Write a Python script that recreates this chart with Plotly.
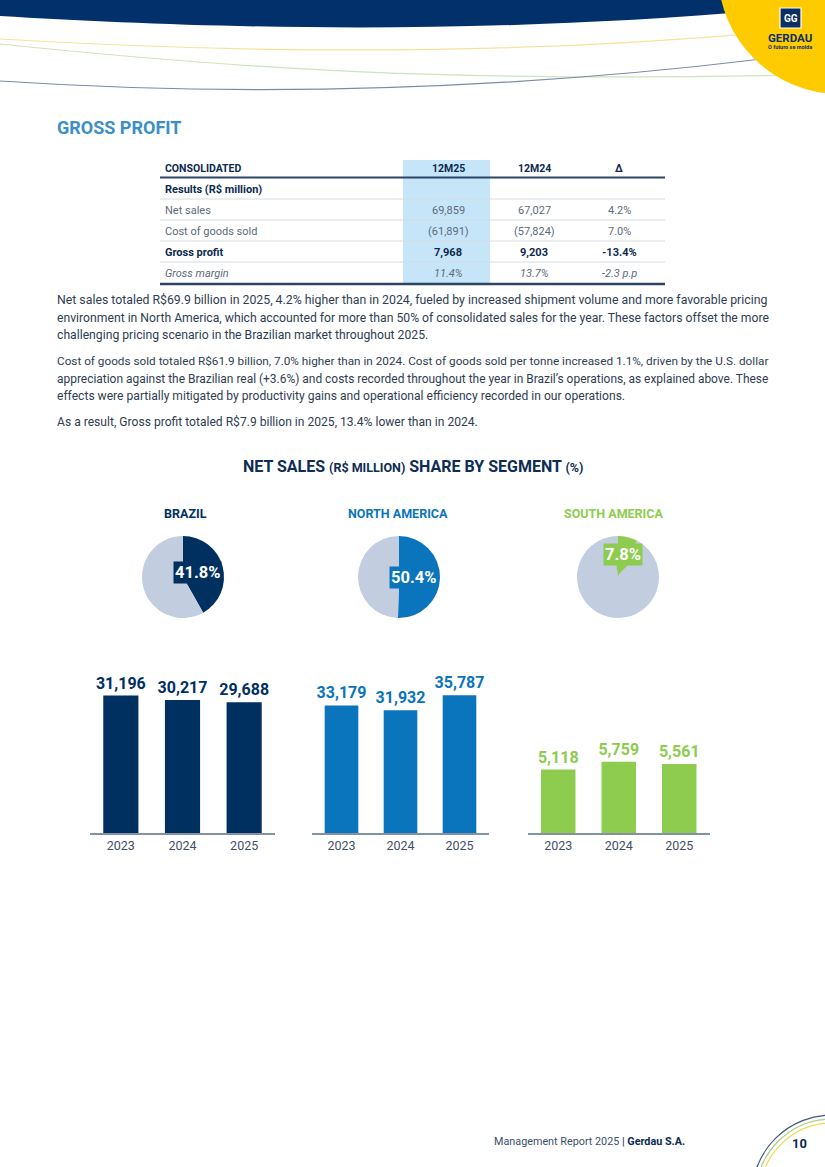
import plotly.graph_objects as go

# ---------------- data ----------------
table_header = ["CONSOLIDATED", "12M25", "12M24", "Δ"]
table_rows = ["Results (R$ million)", "Net sales", "Cost of goods sold", "Gross profit", "Gross margin"]
col_12m25 = ["", "69,859", "(61,891)", "7,968", "11.4%"]
col_12m24 = ["", "67,027", "(57,824)", "9,203", "13.7%"]
col_delta = ["", "4.2%", "7.0%", "-13.4%", "-2.3 p.p"]
row_styles = ["bold", "normal", "normal", "bold", "italic"]

segments = ["BRAZIL", "NORTH AMERICA", "SOUTH AMERICA"]
segment_share = [41.8, 50.4, 7.8]
years = ["2023", "2024", "2025"]
sales_brazil = [31196, 30217, 29688]
sales_north_america = [33179, 31932, 35787]
sales_south_america = [5118, 5759, 5561]

paragraph_lines = [
    "Net sales totaled R$69.9 billion in 2025, 4.2% higher than in 2024, fueled by increased shipment volume and more favorable pricing",
    "environment in North America, which accounted for more than 50% of consolidated sales for the year. These factors offset the more",
    "challenging pricing scenario in the Brazilian market throughout 2025.",
    "Cost of goods sold totaled R$61.9 billion, 7.0% higher than in 2024. Cost of goods sold per tonne increased 1.1%, driven by the U.S. dollar",
    "appreciation against the Brazilian real (+3.6%) and costs recorded throughout the year in Brazil\u2019s operations, as explained above. These",
    "effects were partially mitigated by productivity gains and operational efficiency recorded in our operations.",
    "As a result, Gross profit totaled R$7.9 billion in 2025, 13.4% lower than in 2024.",
]

# ---------------- style ----------------
W, H = 825, 1167
NAVY = "#00305f"
BLUE = "#0a75bc"
GREEN = "#8dcc4e"
LIGHT = "#c3cde0"
TEXT = "#2f3d52"
GREY = "#5d6b7b"
FONT = "Roboto"
seg_colors = [NAVY, BLUE, GREEN]
seg_values = [sales_brazil, sales_north_america, sales_south_america]
para_y = [300, 317.5, 335, 361, 378.5, 396, 422]
para_size = [12.3, 12.2, 12.2, 11.75, 11.95, 12.1, 12.1]


def px(x):
    return x / W


def py(y):
    return 1 - y / H


fig = go.Figure()
annotations = []
shapes = []


def text(x, y, s, size, color, family=FONT, xanchor="left", yanchor="middle", **kw):
    annotations.append(dict(x=x, y=y, xref="x4", yref="y4", text=s, showarrow=False,
                            xanchor=xanchor, yanchor=yanchor,
                            font=dict(size=size, color=color, family=family), **kw))


# ---------------- header decoration ----------------
shapes.append(dict(type="path", xref="x4", yref="y4", layer="above",
                   path="M0,0 L0,16 C200,28 480,37 790,8 L790,0 Z",
                   fillcolor="#01306a", line=dict(width=0)))
shapes.append(dict(type="path", xref="x4", yref="y4", layer="above",
                   path="M0,39 Q420,64 770,32", line=dict(color="#f4e39a", width=1.2)))
shapes.append(dict(type="path", xref="x4", yref="y4", layer="above",
                   path="M0,44 C250,70 450,82 800,75", line=dict(color="#cfe3bd", width=1.2)))
shapes.append(dict(type="path", xref="x4", yref="y4", layer="above",
                   path="M0,81 Q380,106 770,58", line=dict(color="#7c8aa4", width=1.2)))
shapes.append(dict(type="circle", xref="x4", yref="y4", layer="above",
                   x0=840 - 122, x1=840 + 122, y0=-28 - 122, y1=-28 + 122,
                   fillcolor="#fecb00", line=dict(width=0)))
shapes.append(dict(type="rect", xref="x4", yref="y4", layer="above",
                   x0=780, x1=801, y0=8, y1=28, fillcolor="#0b2f63",
                   line=dict(color="white", width=1.2)))
text(790.5, 18.5, "<b>GG</b>", 10, "white", xanchor="center")
text(790, 38, "<b>GERDAU</b>", 11.5, "#0b2f63", xanchor="center")
text(790, 47, "<b>O futuro se molda</b>", 5.5, "#0b2f63", xanchor="center")

# ---------------- title ----------------
text(55, 127, "<b>GROSS PROFIT</b>", 18, "#3b8fc6")

# ---------------- table ----------------
shapes.append(dict(type="rect", xref="x4", yref="y4", layer="below",
                   x0=403, x1=490, y0=160, y1=284, fillcolor="#c6e5f8", line=dict(width=0)))
col_x = [163, 448, 534, 619]
header_y = 168
row_y = [189, 210, 231, 252, 273]
line_y = [199, 220, 241, 262]
for i, h in enumerate(table_header):
    text(col_x[i], header_y, f"<b>{h}</b>", 10.5, "#0d2a4f",
         xanchor="left" if i == 0 else "center")
shapes.append(dict(type="line", xref="x4", yref="y4", layer="above",
                   x0=160, x1=665, y0=177.5, y1=177.5, line=dict(color="#2c4566", width=2)))
for ly in line_y:
    shapes.append(dict(type="line", xref="x4", yref="y4", layer="above",
                       x0=160, x1=665, y0=ly, y1=ly, line=dict(color="#d6dbe1", width=1)))
shapes.append(dict(type="line", xref="x4", yref="y4", layer="above",
                   x0=160, x1=665, y0=284, y1=284, line=dict(color="#2c4566", width=2.5)))
for r, lab in enumerate(table_rows):
    st = row_styles[r]
    cells = [lab, col_12m25[r], col_12m24[r], col_delta[r]]
    for c, v in enumerate(cells):
        if v == "":
            continue
        if st == "bold":
            s, color = f"<b>{v}</b>", "#0d2a4f"
        elif st == "italic":
            s, color = f"<i>{v}</i>", GREY
        else:
            s, color = v, GREY
        text(col_x[c], row_y[r], s, 11, color, xanchor="left" if c == 0 else "center")

# ---------------- paragraphs ----------------
for ln, yy, sz in zip(paragraph_lines, para_y, para_size):
    text(55, yy, ln, sz, TEXT)

# ---------------- chart title ----------------
text(413, 466,
     "<b>NET SALES <span style='font-size:12.5px'>(R$ MILLION)</span> SHARE BY SEGMENT <span style='font-size:12.5px'>(%)</span></b>",
     16, "#0d2d54", xanchor="center")

# ---------------- pies ----------------
pie_cx = [183, 399, 618]
pie_cy = 577
R = 41
label_x = [185, 398, 613]
box_pos = [(197, 572), (413, 577), (623, 554)]
for i, seg in enumerate(segments):
    text(label_x[i], 513, f"<b>{seg}</b>", 12.5, seg_colors[i], xanchor="center")
    fig.add_trace(go.Pie(values=[segment_share[i], 100 - segment_share[i]],
                         marker=dict(colors=[seg_colors[i], LIGHT], line=dict(width=0)),
                         sort=False, direction="clockwise", rotation=0,
                         textinfo="none", hoverinfo="skip", showlegend=False,
                         domain=dict(x=[px(pie_cx[i] - R), px(pie_cx[i] + R)],
                                     y=[py(pie_cy + R), py(pie_cy - R)])))
    bx, by = box_pos[i]
    annotations.append(dict(x=bx, y=by, xref="x4", yref="y4", showarrow=False,
                            text=f"<b>{segment_share[i]}%</b>",
                            font=dict(size=16.5, color="white", family=FONT),
                            bgcolor=seg_colors[i], borderpad=1,
                            xanchor="center", yanchor="middle"))
shapes.append(dict(type="path", xref="x4", yref="y4", layer="above",
                   path="M616,563 L630,563 L618,575 Z", fillcolor=GREEN, line=dict(width=0)))

# ---------------- bars ----------------
bar_domains = [(90, 275), (312, 489), (528, 709.5)]
y_tops = [34731, 39780, 12347]
base_y, top_y = 833, 680
layout_axes = {}
for i, vals in enumerate(seg_values):
    ax = "" if i == 0 else str(i + 1)
    fig.add_trace(go.Bar(x=years, y=vals, xaxis="x" + ax, yaxis="y" + ax,
                         marker=dict(color=seg_colors[i], line=dict(width=0)),
                         width=0.57, texttemplate="<b>%{y:,}</b>", textposition="outside",
                         cliponaxis=False, constraintext="none",
                         textfont=dict(size=16, color=seg_colors[i], family=FONT),
                         hoverinfo="skip", showlegend=False))
    d0, d1 = bar_domains[i]
    layout_axes["xaxis" + ax] = dict(domain=[px(d0), px(d1)], anchor="y" + ax,
                                     showline=True, linecolor="#8391a7", linewidth=2,
                                     ticks="", showgrid=False, zeroline=False,
                                     tickfont=dict(size=12.5, color="#3f4f66", family=FONT),
                                     fixedrange=True)
    layout_axes["yaxis" + ax] = dict(domain=[py(base_y), py(top_y)], anchor="x" + ax,
                                     range=[0, y_tops[i]], visible=False, fixedrange=True)

# full-page pixel axis for decorations
fig.add_trace(go.Scatter(x=[None], y=[None], xaxis="x4", yaxis="y4", showlegend=False,
                         hoverinfo="skip"))
layout_axes["xaxis4"] = dict(domain=[0, 1], range=[0, W], visible=False, fixedrange=True,
                             anchor="y4")
layout_axes["yaxis4"] = dict(domain=[0, 1], range=[H, 0], visible=False, fixedrange=True,
                             anchor="x4")

# ---------------- footer ----------------
text(687, 1141,
     "Management Report 2025 <span style='color:#0d2a4f'>|</span> <b><span style='color:#0d2a4f'>Gerdau S.A.</span></b>",
     10.8, "#3d4f6a", xanchor="right")
text(799, 1143, "<b>10</b>", 13, "#0d2a4f", xanchor="center")
for r, col in [(80, "#3d5780"), (76, "#a9d08e"), (72, "#f0d94a")]:
    shapes.append(dict(type="circle", xref="x4", yref="y4", layer="above",
                       x0=832 - r, x1=832 + r, y0=1195 - r, y1=1195 + r,
                       line=dict(color=col, width=1.2)))

fig.update_layout(width=W, height=H, margin=dict(l=0, r=0, t=0, b=0),
                  paper_bgcolor="white", plot_bgcolor="rgba(0,0,0,0)",
                  annotations=annotations, shapes=shapes, bargap=0.4,
                  font=dict(family=FONT), **layout_axes)
fig.write_html("out.html", config={"displayModeBar": False},
               post_script="document.body.style.margin='0';"
                           "document.documentElement.style.overflow='hidden';")
